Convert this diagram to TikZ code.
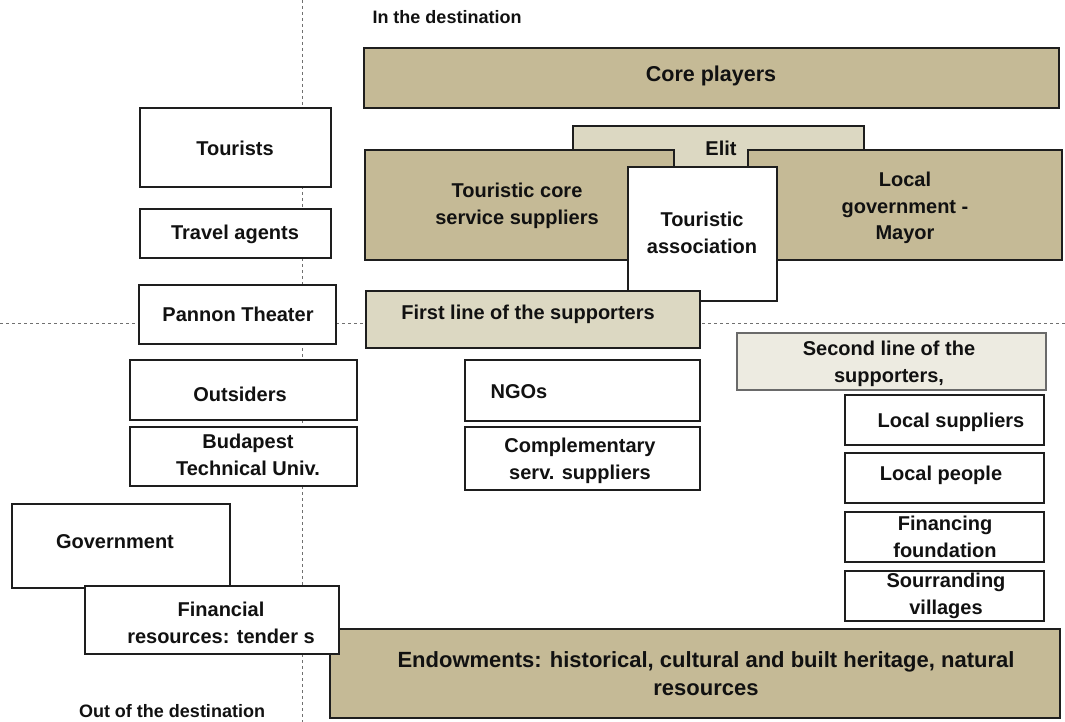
\documentclass[tikz,border=0pt]{standalone}
\usepackage{fontspec}
\setmainfont{Liberation Sans}
\definecolor{tanfill}{HTML}{C5BA96}
\definecolor{palefill}{HTML}{DCD8C2}
\definecolor{mistfill}{HTML}{EDEBE1}
\definecolor{edge}{HTML}{1E1E1E}
\definecolor{mistedge}{HTML}{6A6A6A}
\definecolor{ink}{HTML}{111111}
\definecolor{guide}{HTML}{707070}

% a framed plate given by its corners (x1,y1)-(x2,y2), y measured downwards
\newcommand{\platebox}[6]{%
  \node[#2, minimum width={#5-#3}, minimum height={#6-#4}] (#1)
    at ({(#3+#5)/2},{(#4+#6)/2}) {};}

\begin{document}
\begin{tikzpicture}[x=1pt, y=-1pt,
  plate/.style={draw=edge, line width=1.6pt, inner sep=0pt, outer sep=0pt},
  tanplate/.style={plate, fill=tanfill},
  paleplate/.style={plate, fill=palefill},
  whiteplate/.style={plate, fill=white},
  mistplate/.style={plate, draw=mistedge, line width=1.2pt, fill=mistfill},
  lbl/.style={font=\bfseries\fontsize{20}{26.5}\selectfont, text=ink,
    align=center, inner sep=0pt},
  biglbl/.style={lbl, font=\bfseries\fontsize{21.5}{26}\selectfont},
  baselbl/.style={lbl, font=\bfseries\fontsize{22}{28}\selectfont},
  zonelbl/.style={lbl, font=\bfseries\fontsize{18}{22}\selectfont},
  guideline/.style={draw=guide, line width=0.9pt, dash pattern=on 3pt off 3pt}]

\useasboundingbox (0,0) rectangle (1065,722);

% zone separators
\coordinate (vtop) at (302,0);
\coordinate (vbot) at (302,722);
\coordinate (hleft) at (0,323);
\coordinate (hright) at (1065,323);
\draw[guideline] (vtop) -- (vbot);
\draw[guideline] (hleft) -- (hright);

% core of the destination
\platebox{core}{tanplate}{364}{48}{1059}{108}
\platebox{elit}{paleplate}{573}{126}{864}{200}
\platebox{tcore}{tanplate}{365}{150}{674}{260}
\platebox{lgov}{tanplate}{748}{150}{1062}{260}
\platebox{tassoc}{whiteplate}{628}{167}{777}{301}
\platebox{first}{paleplate}{366}{291}{700}{348}

% left column
\platebox{tourists}{whiteplate}{140}{108}{331}{187}
\platebox{travel}{whiteplate}{140}{209}{331}{258}
\platebox{pannon}{whiteplate}{139}{285}{336}{344}
\platebox{outsiders}{whiteplate}{130}{360}{357}{420}
\platebox{bme}{whiteplate}{130}{427}{357}{486}

% middle column
\platebox{ngos}{whiteplate}{465}{360}{700}{421}
\platebox{compl}{whiteplate}{465}{427}{700}{490}

% right column
\platebox{second}{mistplate}{737}{333}{1046}{390}
\platebox{locsup}{whiteplate}{845}{395}{1044}{445}
\platebox{locpeople}{whiteplate}{845}{453}{1044}{503}
\platebox{financing}{whiteplate}{845}{512}{1044}{562}
\platebox{villages}{whiteplate}{845}{571}{1044}{621}

% outside the destination and the base
\platebox{gov}{whiteplate}{12}{504}{230}{588}
\platebox{endow}{tanplate}{330}{629}{1060}{718}
\platebox{finres}{whiteplate}{85}{586}{339}{654}

% texts
\node[zonelbl] (t-in) at (447,17) {In the destination};
\node[zonelbl] (t-out) at (172,711) {Out of the destination};
\node[biglbl] (t-core) at (711,76) {Core players};
\node[lbl] (t-elit) at (721,148) {Elit};
\node[lbl] (t-tcore) at (517,206) {Touristic core\\service suppliers};
\node[lbl] (t-lgov) at (905,208) {Local\\government -\\Mayor};
\node[lbl] (t-tassoc) at (702,233) {Touristic\\association};
\node[lbl] (t-first) at (528,314) {First line of the supporters};
\node[lbl] (t-tourists) at (235,148) {Tourists};
\node[lbl] (t-travel) at (235,234) {Travel agents};
\node[lbl] (t-pannon) at (238,314) {Pannon Theater};
\node[lbl] (t-outsiders) at (240,394) {Outsiders};
\node[lbl] (t-bme) at (248,455) {Budapest\\Technical Univ.};
\node[lbl] (t-ngos) at (519,392) {NGOs};
\node[lbl] (t-compl) at (580,461) {Complementary\\serv. suppliers};
\node[lbl] (t-second) at (889,364) {Second line of the\\supporters,};
\node[lbl] (t-locsup) at (951,422) {Local suppliers};
\node[lbl] (t-locpeople) at (941,475) {Local people};
\node[lbl] (t-financing) at (945,537) {Financing\\foundation};
\node[lbl] (t-villages) at (946,596) {Sourranding\\villages};
\node[lbl] (t-gov) at (115,542) {Government};
\node[lbl] (t-finres) at (221,623) {Financial\\resources: tender s};
\node[baselbl] (t-endow) at (706,674) {Endowments: historical, cultural and built heritage, natural\\resources};

\end{tikzpicture}
\end{document}
